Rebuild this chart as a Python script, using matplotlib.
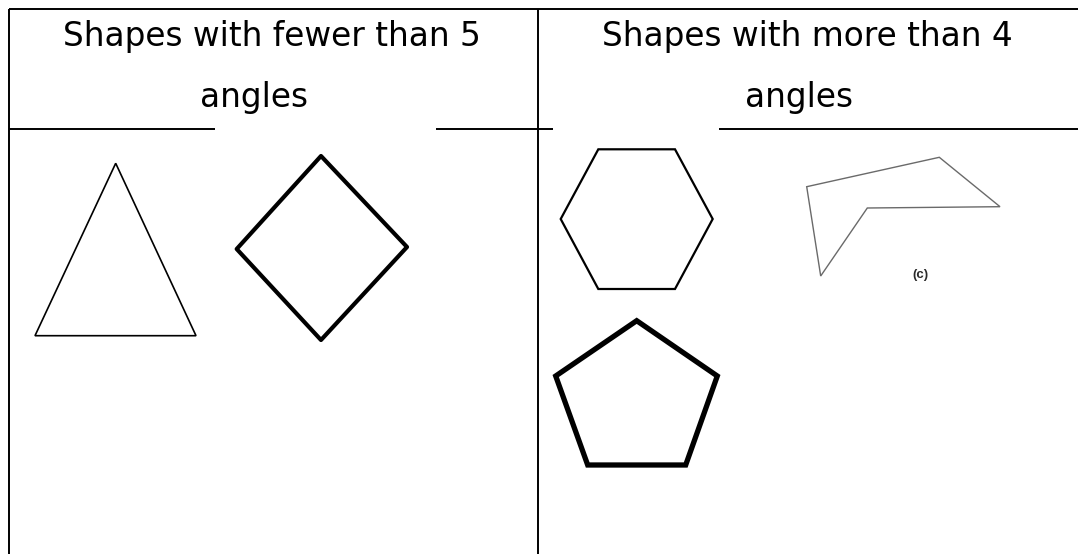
import matplotlib
matplotlib.use("Agg")
import matplotlib.pyplot as plt
from matplotlib.patches import Polygon

W, H = 1078, 554

# Headings (two lines each)
left_heading = ["Shapes with fewer than 5", "angles"]
right_heading = ["Shapes with more than 4", "angles"]
shape_label = "(c)"

# Shape vertices (pixel coordinates)
triangle = [(115.7, 163.3), (196, 335.7), (35, 335.7)]
diamond = [(321, 156), (407, 247), (321, 340), (236.7, 249)]
hexagon = [(598.3, 149.3), (675, 149.3), (712.7, 219), (675, 289), (598.3, 289), (560.7, 219)]
pentagon = [(636.7, 320.7), (717.3, 376), (685.7, 465), (587.7, 465), (555.7, 376)]
concave = [(806.7, 186.7), (939.3, 157.3), (1000, 206.7), (867.3, 208), (820.7, 276)]

fig = plt.figure(figsize=(W / 100, H / 100), dpi=100)
ax = fig.add_axes([0, 0, 1, 1])
ax.set_xlim(0, W)
ax.set_ylim(H, 0)
ax.axis("off")

lw_border = 1.4
# table borders
ax.plot([8.5, W], [8.5, 8.5], color="black", lw=lw_border, solid_capstyle="butt")
ax.plot([8.5, 8.5], [8.5, H], color="black", lw=lw_border, solid_capstyle="butt")
ax.plot([537.5, 537.5], [8.5, H], color="black", lw=lw_border, solid_capstyle="butt")
# header bottom line, interrupted behind "angles"
for x0, x1 in [(8.5, 215), (436, 537.5), (537.5, 553), (719, W)]:
    ax.plot([x0, x1], [128.5, 128.5], color="black", lw=lw_border, solid_capstyle="butt")

font = "DejaVu Sans"
fs = 20
t1 = ax.text(272, 46, left_heading[0], ha="center", va="baseline", fontsize=fs, family=font)
fig.canvas.draw()
wpx = t1.get_window_extent().width
fs = fs * 418.0 / wpx
t1.set_fontsize(fs)
ax.text(254, 107, left_heading[1], ha="center", va="baseline", fontsize=fs, family=font)
ax.text(807, 46, right_heading[0], ha="center", va="baseline", fontsize=fs, family=font)
ax.text(799, 107, right_heading[1], ha="center", va="baseline", fontsize=fs, family=font)

ax.add_patch(Polygon(triangle, closed=True, fill=False, ec="black", lw=1.2, joinstyle="miter"))
ax.add_patch(Polygon(diamond, closed=True, fill=False, ec="black", lw=3.0, joinstyle="round"))
ax.add_patch(Polygon(hexagon, closed=True, fill=False, ec="black", lw=1.6, joinstyle="miter"))
ax.add_patch(Polygon(pentagon, closed=True, fill=False, ec="black", lw=3.8, joinstyle="miter"))
ax.add_patch(Polygon(concave, closed=True, fill=False, ec="#6a6a6a", lw=1.0, joinstyle="miter"))

ax.text(920, 275, shape_label, ha="center", va="center", fontsize=9.5, fontweight="bold",
        family="Liberation Sans", color="#2a2a2a")

fig.savefig("out.png", dpi=100, facecolor="white")
